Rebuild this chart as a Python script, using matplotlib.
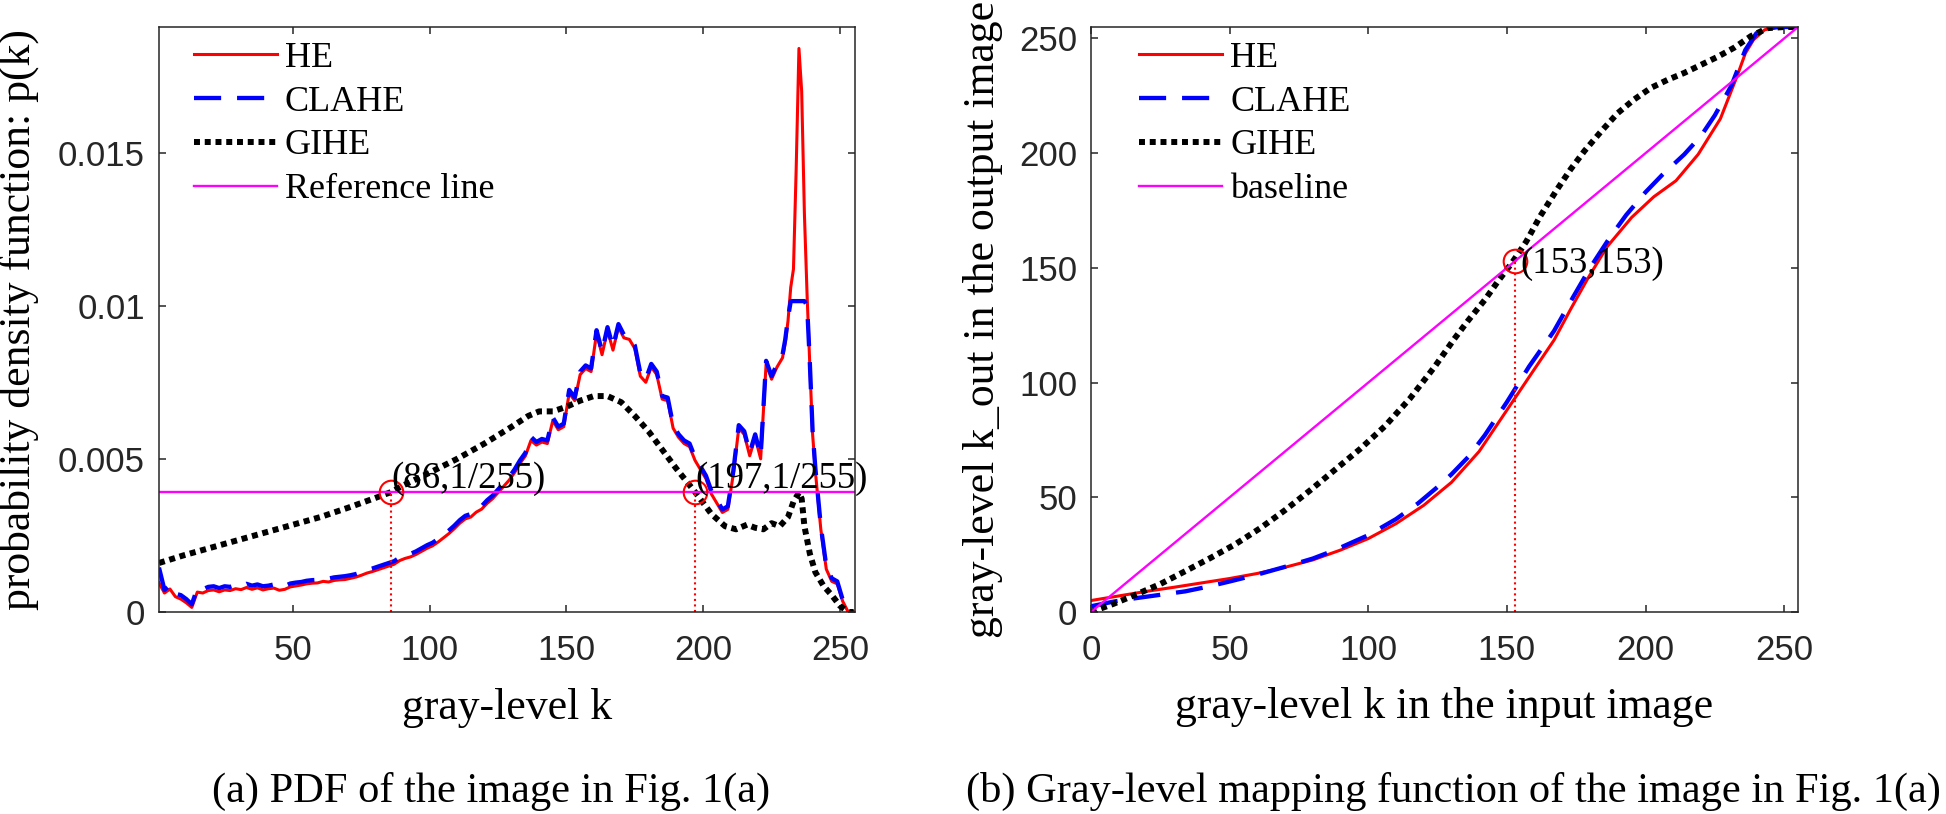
import matplotlib
matplotlib.use("Agg")
import matplotlib.pyplot as plt
import numpy as np

ticksize = 25
labelsize = 31.5
legendsize = 26
notesize = 26.5
captionsize = 30.5
axcolor = '#262626'

# ---- (a) PDF data, values in units of 1e-3 ----
pdf_k = list(range(1, 229, 2)) + list(range(229, 242)) + list(range(243, 256, 2))

he_pdf = [0.95, 0.62, 0.75, 0.50, 0.42, 0.30, 0.15, 0.65, 0.62, 0.70,
          0.72, 0.66, 0.72, 0.70, 0.76, 0.73, 0.80, 0.74, 0.79, 0.72,
          0.76, 0.78, 0.71, 0.74, 0.82, 0.85, 0.88, 0.92, 0.94, 0.95,
          1.00, 0.98, 1.03, 1.05, 1.06, 1.10, 1.14, 1.20, 1.27, 1.32,
          1.38, 1.44, 1.50, 1.56, 1.68, 1.75, 1.80, 1.88, 1.98, 2.08,
          2.16, 2.28, 2.42, 2.56, 2.72, 2.90, 3.04, 3.10, 3.26, 3.36,
          3.55, 3.70, 3.90, 4.10, 4.30, 4.55, 4.85, 5.10, 5.60, 5.45,
          5.55, 5.50, 6.25, 5.95, 6.05, 7.15, 6.90, 7.75, 7.95, 7.85,
          9.10, 8.40, 9.20, 8.55, 9.30, 8.95, 8.90, 8.60, 7.70, 7.50,
          8.00, 7.75, 6.95, 6.90, 6.00, 5.70, 5.50, 5.40, 4.95, 4.65,
          4.35, 3.85, 3.55, 3.25, 3.35, 4.50, 6.00, 5.80, 5.10, 5.70,
          5.00, 8.10, 7.60, 8.00,
          8.30, 8.80, 9.50, 10.60, 11.20, 14.50, 18.40, 17.00, 13.00, 10.30,
          8.00, 5.80, 4.60,
          2.70, 1.40, 1.00, 0.92, 0.35, 0.00, 0.00]

clahe_pdf = [1.45, 0.72, 0.88, 0.60, 0.55, 0.42, 0.25, 0.78, 0.74, 0.82,
             0.84, 0.78, 0.84, 0.82, 0.88, 0.84, 0.92, 0.86, 0.90, 0.84,
             0.86, 0.90, 0.82, 0.85, 0.93, 0.96, 0.98, 1.02, 1.04, 1.05,
             1.10, 1.09, 1.13, 1.15, 1.17, 1.20, 1.24, 1.30, 1.37, 1.42,
             1.48, 1.54, 1.60, 1.66, 1.78, 1.85, 1.90, 1.98, 2.08, 2.18,
             2.26, 2.38, 2.52, 2.66, 2.82, 3.00, 3.14, 3.20, 3.36, 3.46,
             3.65, 3.80, 4.00, 4.20, 4.40, 4.65, 4.95, 5.20, 5.72, 5.55,
             5.65, 5.60, 6.35, 6.05, 6.15, 7.25, 7.00, 7.85, 8.05, 7.95,
             9.20, 8.50, 9.30, 8.65, 9.40, 9.05, 9.00, 8.70, 7.80, 7.60,
             8.10, 7.85, 7.05, 7.00, 6.10, 5.80, 5.60, 5.50, 5.05, 4.75,
             4.45, 3.95, 3.65, 3.35, 3.45, 4.60, 6.10, 5.90, 5.20, 5.80,
             5.10, 8.20, 7.70, 8.10,
             8.40, 8.90, 9.60, 10.15, 10.15, 10.15, 10.15, 10.15, 10.15, 10.00,
             8.10, 5.90, 4.70,
             2.80, 1.50, 1.10, 1.00, 0.40, 0.00, 0.00]

gihe_k = [1, 10, 20, 30, 40, 50, 60, 70, 80, 86, 90, 100, 110, 120, 130, 136,
          140, 145, 150, 155, 160, 165, 170, 175, 180, 185, 190, 197, 203, 208,
          212, 216, 219, 222, 225, 228, 231, 233, 235, 236, 237, 239, 241, 244,
          247, 250, 253, 255]
gihe_pdf = [1.60, 1.85, 2.10, 2.35, 2.60, 2.85, 3.10, 3.40, 3.72, 3.92, 4.12,
            4.55, 5.00, 5.50, 6.05, 6.40, 6.55, 6.55, 6.70, 6.90, 7.05, 7.05,
            6.85, 6.40, 5.90, 5.30, 4.70, 3.92, 3.20, 2.80, 2.70, 2.85, 2.75,
            2.70, 2.90, 2.80, 3.10, 3.60, 3.90, 3.70, 2.80, 1.90, 1.30, 0.85,
            0.55, 0.20, 0.00, 0.00]

ref_k = [1, 255.5]
ref_level = 1 / 255.
cross_a = [86, 197]

# ---- (b) mapping data ----
he_map_k = [0, 10, 20, 30, 40, 50, 60, 70, 80, 90, 100, 110, 120, 130, 140, 150,
            160, 167, 173, 179, 186, 195, 203, 211, 219, 227, 233, 236, 239, 243,
            248, 255]
he_map = [5.0, 7.0, 9.0, 10.8, 12.7, 14.6, 16.8, 19.5, 22.7, 27.0, 32.0, 38.5,
          46.5, 56.5, 70.0, 88.0, 106.0, 118.5, 132.0, 145.0, 159.0, 172.0,
          181.0, 188.0, 199.5, 215.0, 233.5, 243.5, 249.5, 253.8, 255.0, 255.0]

clahe_map_k = [0, 8, 16, 25, 34, 42, 50, 60, 70, 80, 88, 100, 110, 118, 125, 130,
               136, 142, 150, 158, 167, 174, 180, 187, 193, 200, 206, 214, 220,
               225, 231, 236, 240, 244, 248, 255]
clahe_map = [2.5, 4.5, 6.0, 7.5, 9.0, 11.0, 13.3, 16.3, 19.7, 23.3, 27.0, 33.5,
             40.5, 47.4, 54.5, 60.0, 67.5, 77.0, 91.5, 107.0, 122.5, 137.5,
             150.0, 163.0, 173.0, 183.0, 190.5, 199.5, 207.5, 216.5, 229.5,
             245.0, 252.3, 254.3, 255.0, 255.0]

gihe_map_k = [0, 8, 16, 25, 34, 43, 52, 61, 70, 79, 88, 97, 106, 115, 124, 131,
              136, 142, 147, 152, 157, 162, 168, 173, 178, 184, 190, 196, 202,
              208, 214, 220, 226, 232, 238, 244, 250, 255]
gihe_map = [0.0, 3.5, 7.5, 12.2, 17.8, 23.5, 29.5, 36.5, 44.4, 53.0, 62.0, 71.0,
            81.0, 93.0, 107.0, 119.0, 127.0, 136.0, 144.5, 152.5, 161.5, 172.5,
            184.0, 193.0, 201.0, 209.5, 217.5, 223.5, 228.5, 232.0, 235.0,
            238.5, 242.0, 246.0, 251.0, 254.5, 255.0, 255.0]

base_k = [0, 255]
cross_b = 153


def style_axes(a):
    for s in a.spines.values():
        s.set_color(axcolor)
        s.set_linewidth(1.1)
    a.tick_params(direction='in', length=5, width=1.1, colors=axcolor,
                  top=True, right=True, labelsize=ticksize)
    a.tick_params(axis='x', pad=16)
    a.tick_params(axis='y', pad=10)
    for t in a.get_xticklabels() + a.get_yticklabels():
        t.set_family('Liberation Sans')


def add_legend(a, x0):
    a.legend(loc='upper left', bbox_to_anchor=(x0, 0.975), frameon=False,
             prop={'family': serif, 'size': legendsize}, handlelength=2.3,
             handletextpad=0.22, labelspacing=0.29, borderaxespad=0, borderpad=0)


fig = plt.figure(figsize=(19.46, 8.14), dpi=100)
serif = 'Liberation Serif'
gihe_style = dict(color='black', lw=4.3, dashes=(1.0, 0.8), dash_capstyle='butt')

# ----- left: PDF -----
a1 = fig.add_axes([159 / 1946., 1 - 612 / 814., 696 / 1946., 585 / 814.])
a1.plot(pdf_k, np.array(he_pdf) * 1e-3, color='#ff0000', lw=2.2, label='HE')
a1.plot(pdf_k, np.array(clahe_pdf) * 1e-3, color='#0000ff', lw=3.1,
        dashes=(6.3, 3.7), label='CLAHE')
a1.plot(gihe_k, np.array(gihe_pdf) * 1e-3, label='GIHE', **gihe_style)
a1.plot(ref_k, [ref_level, ref_level], color='#ff00ff', lw=1.7, label='Reference line')
for c in cross_a:
    a1.plot([c, c], [0, ref_level], color='#ff0000', lw=1.5, ls=':')
    a1.plot(c, ref_level, 'o', mfc='none', mec='#ff0000', ms=17, mew=1.5)
    a1.text(c, 0.00435, '(%d,1/255)' % c, ha='left', va='center',
            fontsize=notesize, family=serif)
a1.set_xlim(1, 255.5)
a1.set_ylim(0, 0.0191)
a1.set_xticks([50, 100, 150, 200, 250])
a1.set_yticks([0, 0.005, 0.01, 0.015])
a1.set_yticklabels(['0', '0.005', '0.01', '0.015'])
style_axes(a1)
a1.set_xlabel('gray-level k', fontsize=labelsize, family=serif)
a1.xaxis.set_label_coords(0.5, (612 - 719) / 585.)
a1.xaxis.label.set_va('baseline')
a1.set_ylabel('probability density function: p(k)', fontsize=labelsize, family=serif)
a1.yaxis.set_label_coords((30 - 159.3) / 696., 0.5)
a1.yaxis.label.set_va('baseline')
add_legend(a1, 0.050)

# ----- right: mapping -----
a2 = fig.add_axes([1091 / 1946., 1 - 612 / 814., 707 / 1946., 585 / 814.])
a2.plot(he_map_k, he_map, color='#ff0000', lw=2.2, label='HE')
a2.plot(clahe_map_k, clahe_map, color='#0000ff', lw=3.1, dashes=(6.3, 3.7),
        label='CLAHE')
a2.plot(gihe_map_k, gihe_map, label='GIHE', **gihe_style)
a2.plot(base_k, base_k, color='#ff00ff', lw=1.7, label='baseline')
a2.plot([cross_b, cross_b], [0, cross_b], color='#ff0000', lw=1.5, ls=':')
a2.plot(cross_b, cross_b, 'o', mfc='none', mec='#ff0000', ms=17, mew=1.5)
a2.text(cross_b + 2, cross_b - 1, '(%d,%d)' % (cross_b, cross_b), ha='left',
        va='center', fontsize=notesize, family=serif)
a2.set_xlim(0, 255)
a2.set_ylim(0, 255)
a2.set_xticks([0, 50, 100, 150, 200, 250])
a2.set_yticks([0, 50, 100, 150, 200, 250])
style_axes(a2)
a2.set_xlabel('gray-level k in the input image', fontsize=labelsize, family=serif)
a2.xaxis.set_label_coords(0.5, (612 - 718) / 585.)
a2.xaxis.label.set_va('baseline')
a2.set_ylabel('gray-level k_out in the output image', fontsize=labelsize, family=serif)
a2.yaxis.set_label_coords((994 - 1091) / 707., 0.5)
a2.yaxis.label.set_va('baseline')
add_legend(a2, 0.068)

fig.text(491 / 1946., 1 - 802 / 814., '(a) PDF of the image in Fig. 1(a)',
         ha='center', va='baseline', fontsize=captionsize, family=serif)
fig.text(1453 / 1946., 1 - 802 / 814.,
         '(b) Gray-level mapping function of the image in Fig. 1(a)',
         ha='center', va='baseline', fontsize=captionsize, family=serif)

fig.savefig('out.png', dpi=100)
